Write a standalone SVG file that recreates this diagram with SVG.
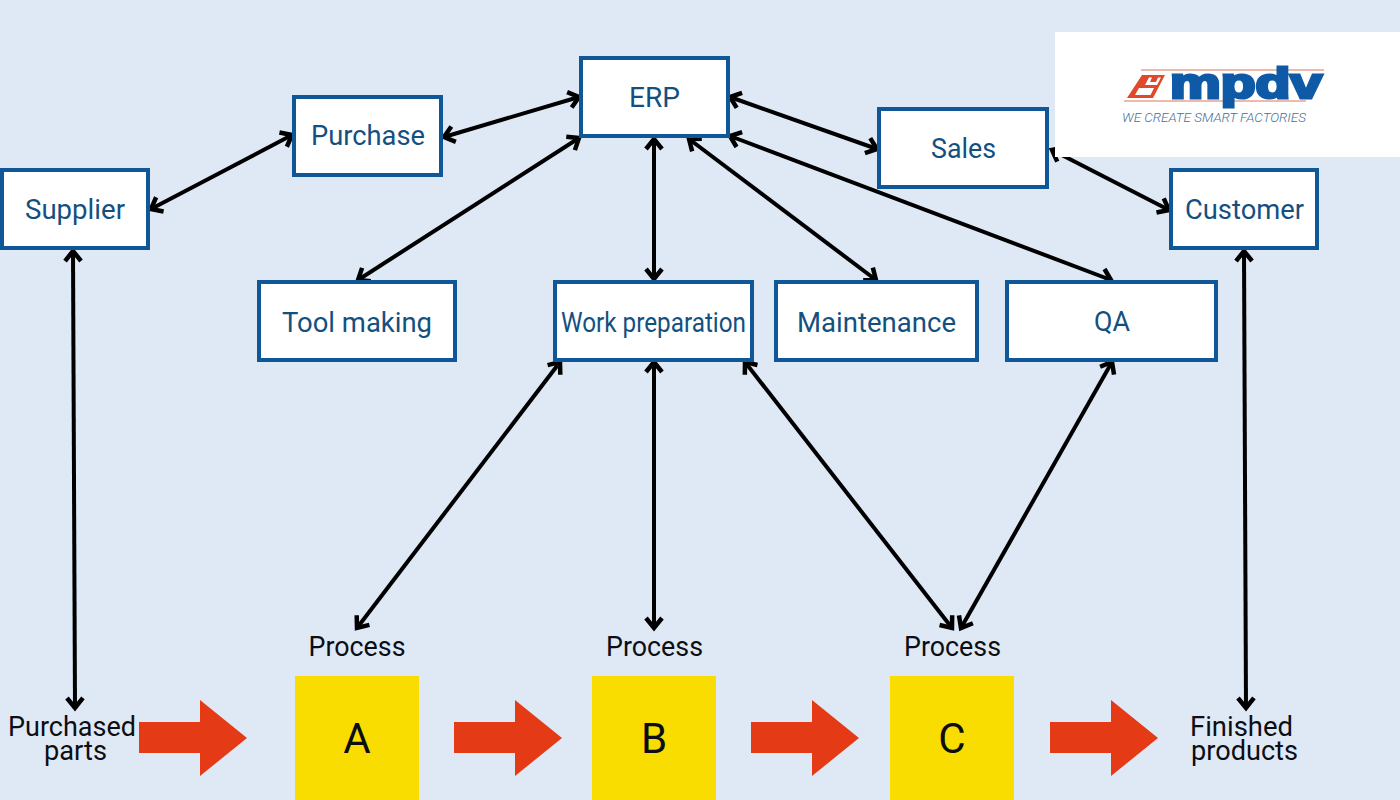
<svg xmlns="http://www.w3.org/2000/svg" width="1400" height="800" viewBox="0 0 1400 800">
<style>
.box{fill:#fff;stroke:#0f5796;stroke-width:4}
.bt{font-family:Roboto,"Noto Sans",sans-serif;font-size:28px;fill:#14507f;text-anchor:middle}
.pt{font-family:Roboto,"Noto Sans",sans-serif;font-size:28px;fill:#0d0d14;text-anchor:middle}
.big{font-family:Roboto,"Noto Sans",sans-serif;font-size:42px;fill:#0d0d14;text-anchor:middle}
.c{fill:none;stroke:#000;stroke-width:4;marker-start:url(#s);marker-end:url(#e)}
.ra{fill:#e43a15}
.y{fill:#f9dd00}
</style>
<defs>
<marker id="e" markerUnits="userSpaceOnUse" markerWidth="22" markerHeight="22" refX="15" refY="11" orient="auto"><path d="M5 3L15 11L5 19" fill="none" stroke="#000" stroke-width="4.500"/></marker>
<marker id="s" markerUnits="userSpaceOnUse" markerWidth="22" markerHeight="22" refX="7" refY="11" orient="auto"><path d="M17 3L7 11L17 19" fill="none" stroke="#000" stroke-width="4.500"/></marker>
</defs>
<rect width="1400" height="800" fill="#dfe9f6"/>
<g id="connectors">
<path class="c" d="M151 209L292 135"/>
<path class="c" d="M444 137L579 97"/>
<path class="c" d="M730 97L877 149"/>
<path class="c" d="M1052 150L1169 210"/>
<path class="c" d="M579 138L358 280"/>
<path class="c" d="M654 139L654 279"/>
<path class="c" d="M689 139L876 280"/>
<path class="c" d="M730 136L1111 280"/>
<path class="c" d="M73 251L75 708"/>
<path class="c" d="M1244 251L1246 708"/>
<path class="c" d="M560 362L357 628"/>
<path class="c" d="M654 362L654 628"/>
<path class="c" d="M745 362L952 628"/>
<path class="c" d="M1112 362L961 628"/>
</g>
<g id="supplier"><rect class="box" x="2" y="170" width="146" height="78"/><text class="bt" x="75" y="219" textLength="100" lengthAdjust="spacingAndGlyphs">Supplier</text></g>
<g id="purchase"><rect class="box" x="294" y="97" width="147" height="78"/><text class="bt" x="368" y="145" textLength="114" lengthAdjust="spacingAndGlyphs">Purchase</text></g>
<g id="erp"><rect class="box" x="581" y="58" width="147" height="78"/><text class="bt" x="654.500" y="107" textLength="51" lengthAdjust="spacingAndGlyphs">ERP</text></g>
<g id="sales"><rect class="box" x="879" y="109" width="168" height="78"/><text class="bt" x="963.500" y="158" textLength="65" lengthAdjust="spacingAndGlyphs">Sales</text></g>
<g id="customer"><rect class="box" x="1171" y="170" width="146" height="78"/><text class="bt" x="1244.500" y="219" textLength="119" lengthAdjust="spacingAndGlyphs">Customer</text></g>
<g id="tool-making"><rect class="box" x="259" y="282" width="196" height="78"/><text class="bt" x="357" y="332" textLength="150" lengthAdjust="spacingAndGlyphs">Tool making</text></g>
<g id="work-preparation"><rect class="box" x="555" y="282" width="197" height="78"/><text class="bt" x="653.500" y="332" textLength="185" lengthAdjust="spacingAndGlyphs">Work preparation</text></g>
<g id="maintenance"><rect class="box" x="776" y="282" width="201" height="78"/><text class="bt" x="876.500" y="332" textLength="159" lengthAdjust="spacingAndGlyphs">Maintenance</text></g>
<g id="qa"><rect class="box" x="1007" y="282" width="209" height="78"/><text class="bt" x="1112" y="331" textLength="36" lengthAdjust="spacingAndGlyphs">QA</text></g>
<g id="logo">
<rect x="1055" y="32" width="345" height="125" fill="#fff"/>
<path d="M1141 70H1324M1124 101H1306" stroke="#e9a48e" stroke-width="1.500" fill="none"/>
<path d="M1142 75H1165L1153 98H1127Z" fill="#e0492a"/>
<path d="M1149 77.500H1152L1150 82H1156L1158 77.500H1161L1157 85H1145Z" fill="#fff"/>
<path d="M1139 88H1154L1150.500 95H1135Z" fill="#fff"/>
<text x="1170" y="98" font-family="Liberation Sans,sans-serif" font-weight="700" font-size="43" fill="#0f5aa6" stroke="#0f5aa6" stroke-width="3" textLength="152" lengthAdjust="spacingAndGlyphs">mpdv</text>
<text x="1122" y="122" font-family="Roboto,sans-serif" font-style="italic" font-weight="300" font-size="13.500" fill="#3f7199" textLength="184" lengthAdjust="spacingAndGlyphs">WE CREATE SMART FACTORIES</text>
</g>
<g id="process-a"><text class="pt" x="357" y="656" textLength="97" lengthAdjust="spacingAndGlyphs">Process</text><rect class="y" x="295" y="676" width="124" height="124"/><text class="big" x="357" y="753">A</text></g>
<g id="process-b"><text class="pt" x="654.500" y="656" textLength="97" lengthAdjust="spacingAndGlyphs">Process</text><rect class="y" x="592" y="676" width="124" height="124"/><text class="big" x="654" y="753">B</text></g>
<g id="process-c"><text class="pt" x="952.500" y="656" textLength="97" lengthAdjust="spacingAndGlyphs">Process</text><rect class="y" x="890" y="676" width="124" height="124"/><text class="big" x="952" y="753">C</text></g>
<g id="purchased-parts"><text class="pt" x="72" y="736" textLength="128" lengthAdjust="spacingAndGlyphs">Purchased</text><text class="pt" x="75.500" y="760" textLength="63" lengthAdjust="spacingAndGlyphs">parts</text></g>
<g id="finished-products"><text class="pt" x="1241.500" y="736" textLength="103" lengthAdjust="spacingAndGlyphs">Finished</text><text class="pt" x="1244.500" y="760" textLength="107" lengthAdjust="spacingAndGlyphs">products</text></g>
<g id="flow-arrows">
<path class="ra" d="M139 722H200V700L247 738L200 776V753H139Z"/>
<path class="ra" d="M454 722H515V700L562 738L515 776V753H454Z"/>
<path class="ra" d="M751 722H812V700L859 738L812 776V753H751Z"/>
<path class="ra" d="M1050 722H1111V700L1158 738L1111 776V753H1050Z"/>
</g>
</svg>
